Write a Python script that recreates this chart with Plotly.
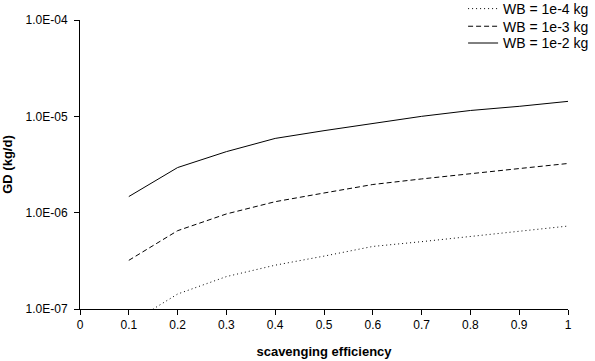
import plotly.graph_objects as go

x_vals = [0.1, 0.2, 0.3, 0.4, 0.5, 0.6, 0.7, 0.8, 0.9, 1.0]
wb_1e4 = [7.0e-8, 1.43e-7, 2.17e-7, 2.85e-7, 3.54e-7, 4.46e-7, 5.0e-7, 5.66e-7, 6.4e-7, 7.26e-7]
wb_1e3 = [3.2e-7, 6.5e-7, 9.7e-7, 1.3e-6, 1.6e-6, 1.96e-6, 2.24e-6, 2.55e-6, 2.87e-6, 3.24e-6]
wb_1e2 = [1.47e-6, 2.94e-6, 4.3e-6, 5.9e-6, 7.1e-6, 8.45e-6, 1.0e-5, 1.15e-5, 1.27e-5, 1.43e-5]
series_names = ["WB = 1e-4 kg", "WB = 1e-3 kg", "WB = 1e-2 kg"]
y_tickvals = [1e-7, 1e-6, 1e-5, 1e-4]
y_ticktext = ["1.0E-07", "1.0E-06", "1.0E-05", "1.0E-04"]
x_tickvals = [0, 0.1, 0.2, 0.3, 0.4, 0.5, 0.6, 0.7, 0.8, 0.9, 1]
x_ticktext = ["0", "0.1", "0.2", "0.3", "0.4", "0.5", "0.6", "0.7", "0.8", "0.9", "1"]

legend_ids = ["legend", "legend2", "legend3"]
legend_y = [1.038, 0.977, 0.919]

fig = go.Figure()
for name, ys, dash, lg in zip(series_names, [wb_1e4, wb_1e3, wb_1e2],
                              ["1px,3px", "5px,3px", "solid"], legend_ids):
    fig.add_trace(go.Scatter(x=x_vals, y=ys, mode="lines", name=name, legend=lg,
                             line=dict(color="black", width=1, dash=dash)))

font = "Liberation Sans, Arial, sans-serif"
legend_common = dict(x=0.785, xanchor="left", yanchor="middle",
                     bgcolor="rgba(0,0,0,0)", font=dict(size=14),
                     itemwidth=30, borderwidth=0)
fig.update_layout(
    width=595, height=361,
    margin=dict(l=80, r=27, t=20, b=52, autoexpand=False),
    paper_bgcolor="white", plot_bgcolor="white",
    font=dict(family=font, size=12, color="black"),
    showlegend=True,
    legend=dict(y=legend_y[0], **legend_common),
    legend2=dict(y=legend_y[1], **legend_common),
    legend3=dict(y=legend_y[2], **legend_common),
    xaxis=dict(range=[0, 1], tickvals=x_tickvals, ticktext=x_ticktext,
               automargin=False,
               showgrid=False, zeroline=False, showline=True, linecolor="black",
               linewidth=1, ticks="outside", ticklen=5, tickcolor="black",
               tickfont=dict(size=12),
               title=dict(text="<b>scavenging efficiency</b>", standoff=15,
                          font=dict(size=13))),
    yaxis=dict(type="log", range=[-7, -4], tickvals=y_tickvals, ticktext=y_ticktext,
               automargin=False, ticklabelstandoff=4,
               showgrid=False, zeroline=False, showline=True, linecolor="black",
               linewidth=1, ticks="outside", ticklen=5, tickcolor="black",
               tickfont=dict(size=12),
               title=dict(text="<b>GD (kg/d)</b>", standoff=10,
                          font=dict(size=13))),
)
fig.write_html("out.html", config={"displayModeBar": False},
               post_script="document.body.style.margin='0';document.body.style.padding='0';")
